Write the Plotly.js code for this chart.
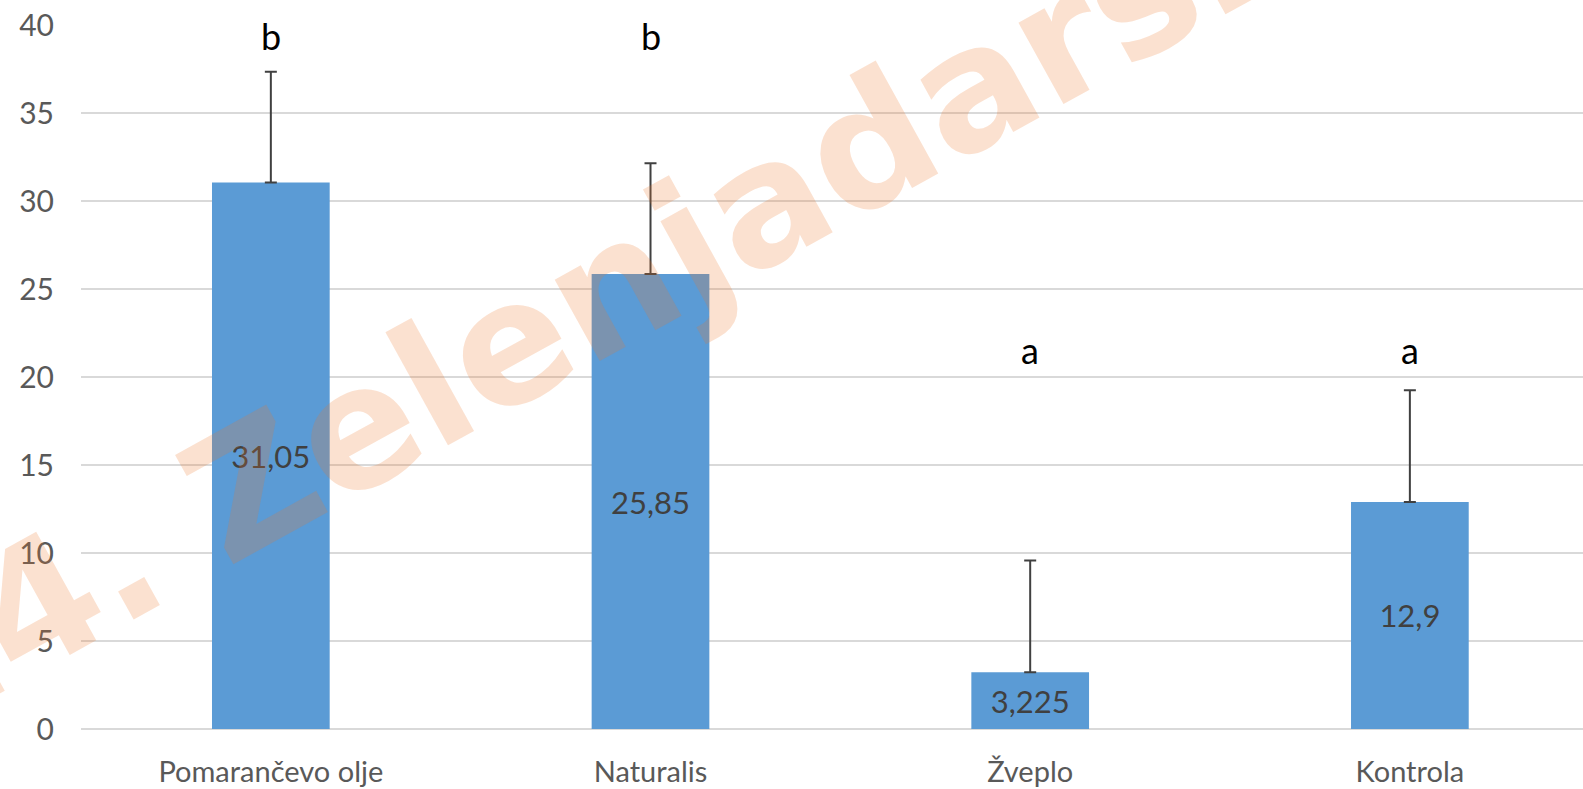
<!DOCTYPE html>
<html>
<head>
<meta charset="utf-8">
<script src="https://cdn.plot.ly/plotly-3.0.1.min.js"></script>
<style>
  html, body { margin: 0; padding: 0; background: #ffffff; }
  #chart { width: 1583px; height: 789px; }
</style>
</head>
<body>
<div id="chart"></div>
<script>
// Categories (treatments)
const categories = ['Pomarančevo olje', 'Naturalis', 'Žveplo', 'Kontrola'];
// Mean values
const values = [31.05, 25.85, 3.225, 12.9];
// Positive error (upper whisker)
const errors = [6.3, 6.3, 6.35, 6.35];
// Significance letters
const sigLetters = ['b', 'b', 'a', 'a'];
// Y-axis ticks
const yTicks = [0, 5, 10, 15, 20, 25, 30, 35, 40];

const labelTexts = values.map(v => String(v).replace('.', ','));
const FONT = 'Lato, "Open Sans", sans-serif';

const trace = {
  type: 'bar',
  x: categories,
  y: values,
  marker: { color: '#5B9BD5' },
  text: labelTexts,
  textposition: 'inside',
  insidetextanchor: 'middle',
  textangle: 0,
  textfont: { family: FONT, size: 31, color: '#404040' },
  error_y: {
    type: 'data',
    symmetric: false,
    array: errors,
    arrayminus: errors.map(() => 0),
    color: '#404040',
    thickness: 2,
    width: 6
  },
  hoverinfo: 'none',
  cliponaxis: false
};

const letterY = { a: 21.55, b: 39.35 };
const annotations = categories.map((c, i) => ({
  x: c, y: letterY[sigLetters[i]],
  xref: 'x', yref: 'y',
  text: sigLetters[i],
  showarrow: false,
  xanchor: 'center', yanchor: 'middle',
  font: { family: FONT, size: 36, color: '#000000' }
}));

// Watermark
annotations.push({
  xref: 'paper', yref: 'paper',
  x: 0.351, y: 0.625,
  text: '14. Zelenjadarski',
  showarrow: false,
  textangle: -29,
  xanchor: 'center', yanchor: 'middle',
  font: { family: '"DejaVu Sans", sans-serif', size: 170, color: 'rgba(238,120,40,0.22)', weight: 'bold' }
});

const layout = {
  width: 1583,
  height: 789,
  margin: { l: 81, r: 0, t: 25, b: 60 },
  paper_bgcolor: '#ffffff',
  plot_bgcolor: '#ffffff',
  showlegend: false,
  bargap: 0.69,
  xaxis: {
    type: 'category',
    range: [-0.5, 3.456],
    showgrid: false,
    showline: false,
    zeroline: false,
    ticks: '',
    ticklabelstandoff: 23,
    tickfont: { family: FONT, size: 29, color: '#595959' },
    fixedrange: true
  },
  yaxis: {
    range: [0, 40],
    tickvals: yTicks,
    ticktext: yTicks.map(String),
    showgrid: true,
    gridcolor: '#D9D9D9',
    gridwidth: 2,
    zeroline: true,
    zerolinecolor: '#D9D9D9',
    zerolinewidth: 2,
    showline: false,
    ticks: '',
    ticklabelstandoff: 26,
    tickfont: { family: FONT, size: 30, color: '#595959' },
    fixedrange: true
  },
  annotations: annotations
};

Plotly.newPlot('chart', [trace], layout, { staticPlot: true, displayModeBar: false });
</script>
</body>
</html>
